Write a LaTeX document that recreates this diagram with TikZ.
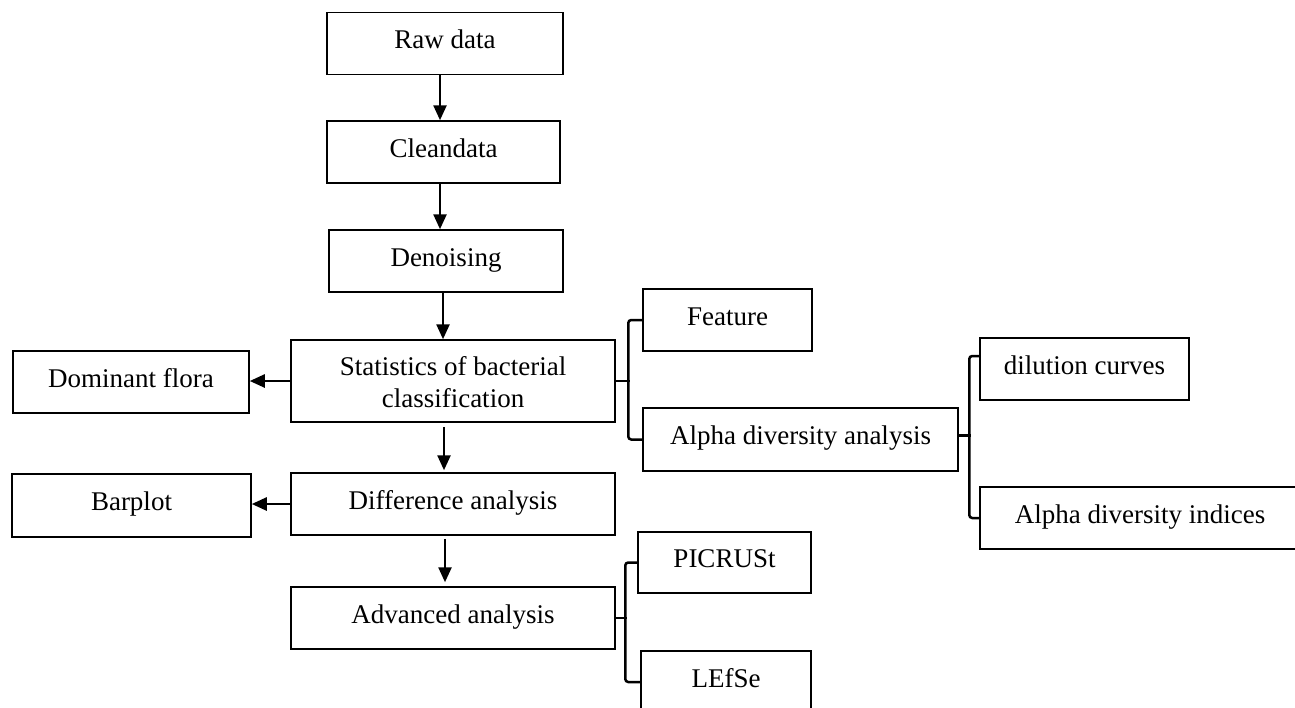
\documentclass[tikz,border=0pt]{standalone}
\usepackage{fontspec}
\setmainfont{Liberation Serif}
\usetikzlibrary{arrows.meta}
\tikzset{
  box/.style={draw, line width=1.5pt, inner sep=0pt, minimum height=62pt,
    text height=18pt, text depth=8pt, align=center, font=\fontsize{27}{32}\selectfont},
  flowarrow/.style={line width=2.5pt, -{Triangle[length=15pt,width=13pt]}},
  brace/.style={line width=2.5pt, rounded corners=3pt}
}
\begin{document}
\begin{tikzpicture}[x=1pt,y=1pt,yscale=-1,xscale=1]
  \useasboundingbox (0,0) rectangle (1295,707);
  %Shape: Box
  \node [box, minimum width=236pt] (raw) at (445,43.5) {Raw data};
  \node [box, minimum width=233pt] (clean) at (443.5,152) {Cleandata};
  \node [box, minimum width=234pt] (denoise) at (446,261) {Denoising};
  \node [box, minimum width=324pt, minimum height=82pt, text height=56pt, text depth=4pt] (stats) at (453,381) {Statistics of bacterial\\classification};
  \node [box, minimum width=236pt] (dominant) at (131,382) {Dominant flora};
  \node [box, minimum width=324pt] (diff) at (453,504) {Difference analysis};
  \node [box, minimum width=239pt, minimum height=63pt] (barplot) at (131.5,505.5) {Barplot};
  \node [box, minimum width=324pt] (adv) at (453,618) {Advanced analysis};
  \node [box, minimum width=169pt] (feature) at (727.5,320) {Feature};
  \node [box, minimum width=315pt, minimum height=63pt] (alpha) at (800.5,439.5) {Alpha diversity analysis};
  \node [box, minimum width=209pt] (dilution) at (1084.5,369) {dilution curves};
  \node [box, minimum width=320pt] (indices) at (1140,518) {Alpha diversity indices};
  \node [box, minimum width=173pt, minimum height=61pt] (picrust) at (724.5,562.5) {PICRUSt};
  \node [box, minimum width=170pt] (lefse) at (726,682) {LEfSe};

  %Straight Lines
  \draw [flowarrow] ([xshift=-5pt]raw.south) -- ([xshift=-5pt]raw.south |- clean.north);
  \draw [flowarrow] ([xshift=-3.5pt]clean.south) -- ([xshift=-3.5pt]clean.south |- denoise.north);
  \draw [flowarrow] ([xshift=-3pt]denoise.south) -- ([xshift=-3pt]denoise.south |- stats.north);
  \draw [flowarrow, shorten <=4pt, shorten >=2pt] ([xshift=-9pt]stats.south) -- ([xshift=-9pt]stats.south |- diff.north);
  \draw [flowarrow, shorten <=3pt, shorten >=4pt] ([xshift=-8pt]diff.south) -- ([xshift=-8pt]diff.south |- adv.north);
  \draw [flowarrow] (stats.west) -- (stats.west -| dominant.east);
  \draw [flowarrow] (diff.west) -- (diff.west -| barplot.east);

  %Brackets
  \draw [brace] (stats.east) -- ++(14,0);
  \draw [brace] (feature.west) -- ++(-14,0) |- (alpha.west);
  \draw [brace] ([yshift=-4pt]alpha.east) -- ++(12,0);
  \draw [brace] ([yshift=-13pt]dilution.west) -- ++(-10,0) |- (indices.west);
  \draw [brace] (adv.east) -- ++(11,0);
  \draw [brace] (picrust.west) -- ++(-12,0) |- (lefse.west);
\end{tikzpicture}
\end{document}
